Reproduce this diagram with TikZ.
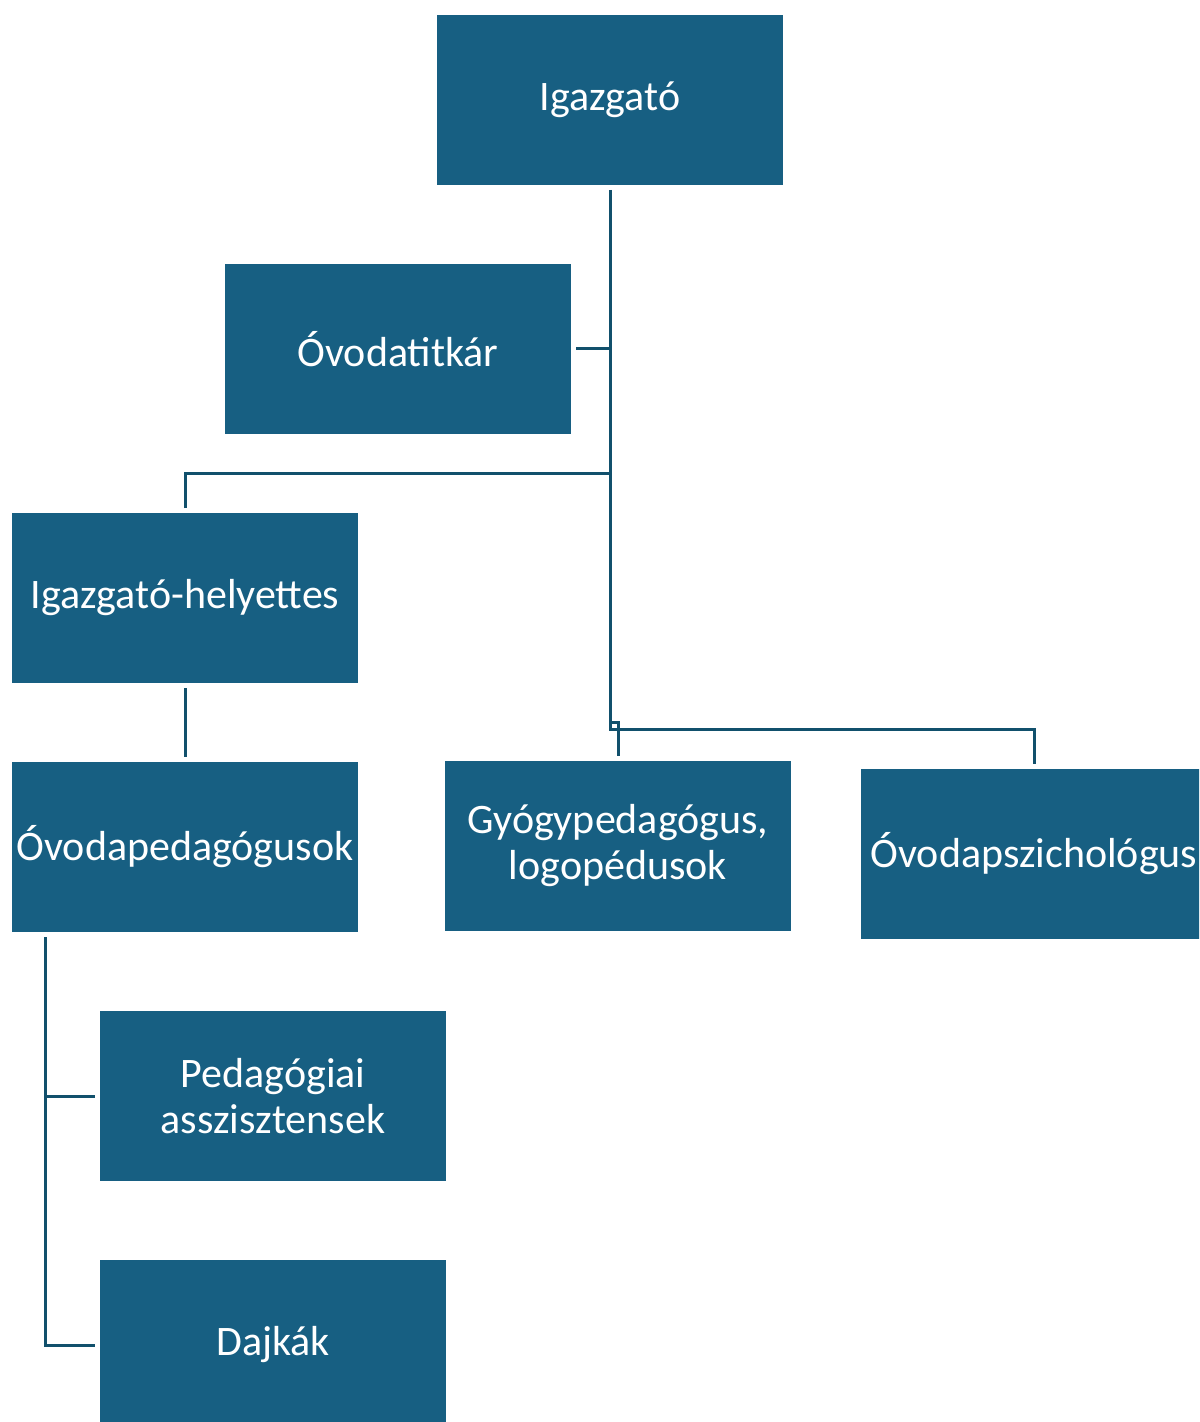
\documentclass[tikz,border=0pt]{standalone}
\usepackage{fontspec}
\setmainfont{Carlito}
\usepackage{tikz}
\definecolor{boxfill}{RGB}{23, 95, 130}
\definecolor{linecol}{RGB}{17, 80, 108}
\usetikzlibrary{positioning}
\tikzset{
  unit/.style={rectangle, fill=boxfill, draw=none, minimum width=173pt, minimum height=85pt,
    outer sep=2.5pt, inner sep=0pt, text=white, align=center,
    font=\fontsize{21pt}{23pt}\selectfont},
  link/.style={line width=1.5pt, color=linecol}
}

\begin{document}
\begin{tikzpicture}[x=0.5pt, y=-0.5pt]
\useasboundingbox (0,0) rectangle (1199,1422);
\clip (0,0) rectangle (1199,1422);
\node (1) [unit] at (610, 100)  {Igazgató};
\node (2) [unit] at (398, 349)  {Óvodatitkár};
\node (3) [unit] at (185, 598)  {Igazgató-helyettes};
\node (4) [unit] at (185, 847)  {Óvodapedagógusok};
\node (5) [unit] at (618, 846)  {Gyógypedagógus,\\logopédusok};
\node (6) [unit] at (1034, 854) {Óvodapszichológus};
\node (7) [unit] at (273, 1096) {Pedagógiai\\asszisztensek};
\node (8) [unit] at (273, 1345) {Dajkák};
\coordinate (a) at (610, 473);
\coordinate (b) at (610, 722);
\coordinate (c) at (610, 729);
\coordinate (d) at (45, 937);
\draw [link] (1.south) -- (c) -| (6.north);
\draw [link] (2.east) -- (2.east -| 1.south);
\draw [link] (3.north) |- (a);
\draw [link] (b) -| (5.north);
\draw [link] (3) to  (4);
\draw [link] (d) |- (7.west);
\draw [link] (d) |- (8.west);
\end{tikzpicture}
\end{document}
